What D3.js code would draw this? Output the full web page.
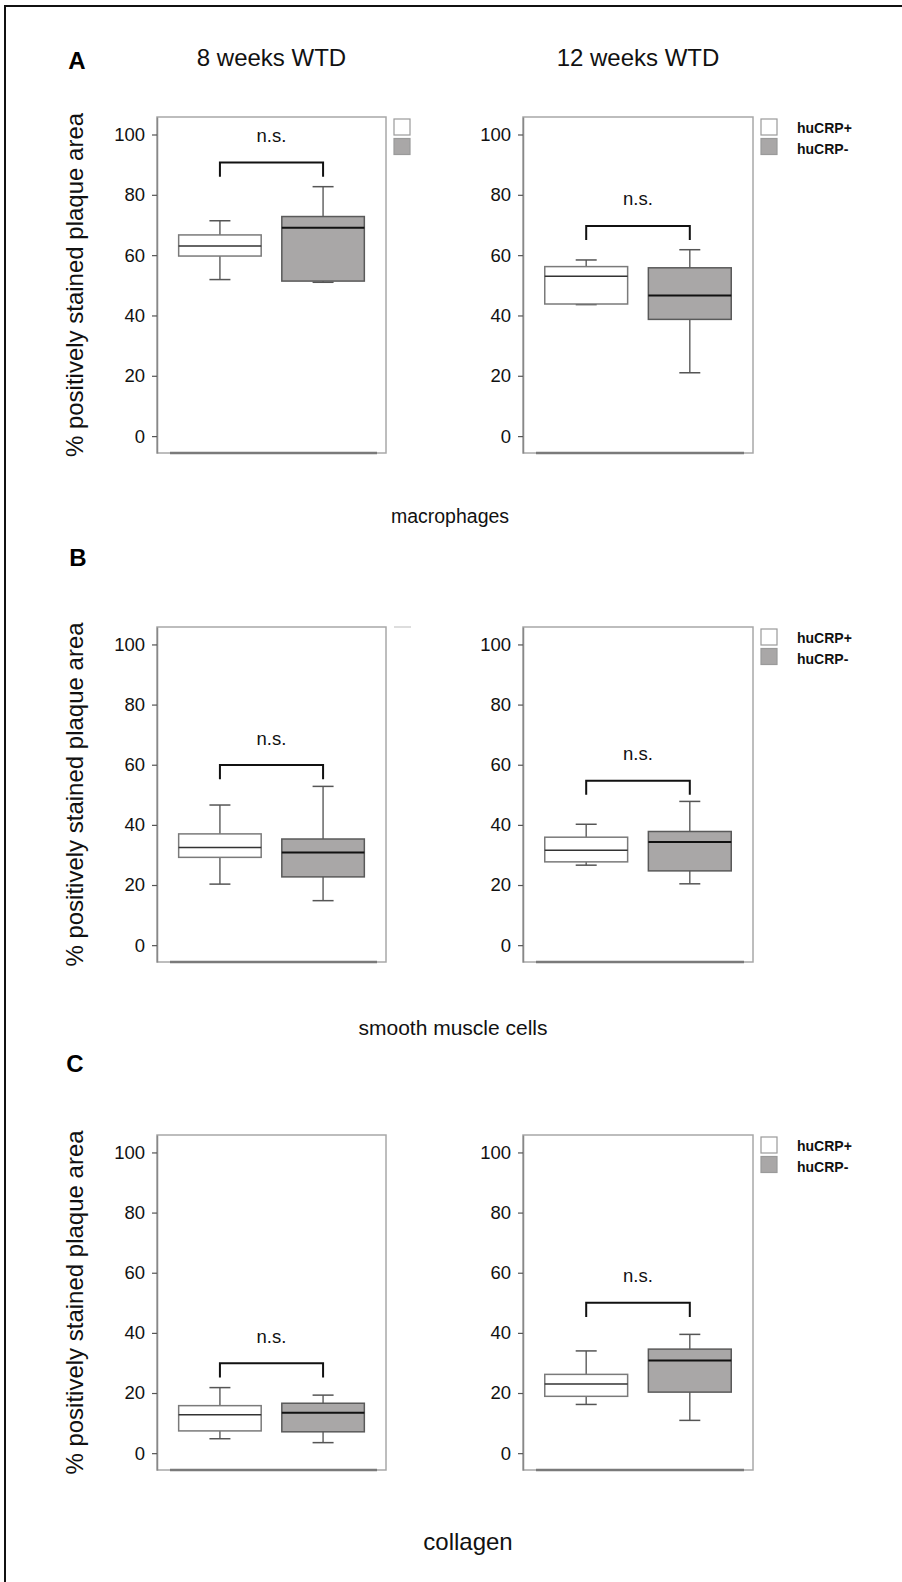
<!DOCTYPE html>
<html>
<head>
<meta charset="utf-8">
<title>Plaque composition</title>
<style>
body { margin: 0; background: #fff; }
text { font-family: "Liberation Sans", Arial, sans-serif; }
</style>
</head>
<body>
<script src="https://cdnjs.cloudflare.com/ajax/libs/d3/7.8.5/d3.min.js"></script>
<script>
// grupy i etykiety
var groups = ["huCRP+", "huCRP-"];
var weeks = ["8 weeks WTD", "12 weeks WTD"];
var stains = ["macrophages", "smooth muscle cells", "collagen"];
var letters = ["A", "B", "C"];
var yTicks = [0, 20, 40, 60, 80, 100];

// [dolny wąs, Q1, mediana, Q3, górny wąs] dla huCRP+ i huCRP-
var macro8  = [[51.9, 59.7, 63.0, 66.7, 71.4], [51.0, 51.4, 69.1, 72.8, 82.7]];
var macro12 = [[43.6, 43.8, 53.0, 56.2, 58.4], [21.0, 38.7, 46.6, 55.8, 61.8]];
var smc8    = [[20.3, 29.2, 32.5, 37.0, 46.6], [14.8, 22.7, 30.8, 35.3, 52.8]];
var smc12   = [[26.6, 27.7, 31.6, 35.9, 40.2], [20.4, 24.7, 34.3, 37.8, 47.8]];
var coll8   = [[4.8, 7.4, 12.8, 15.8, 21.8], [3.5, 7.1, 13.4, 16.6, 19.3]];
var coll12  = [[16.2, 18.9, 23.0, 26.2, 34.0], [10.9, 20.3, 30.8, 34.6, 39.5]];

// wysokosc klamry "n.s." (8 tyg., 12 tyg.)
var bracketMacro = [90.7, 69.7];
var bracketSmc = [59.9, 54.7];
var bracketColl = [29.9, 50.0];
var bracketDrop = 4.7;

var panelData = [[macro8, macro12], [smc8, smc12], [coll8, coll12]];
var panelBracket = [bracketMacro, bracketSmc, bracketColl];

// uklad
var colX = [[157, 386], [523, 753]];
var rowY = [[117, 453], [627, 962], [1135, 1470]];
var letterPos = [[77, 60], [78, 557], [75, 1063]];
var stainPos = [[450, 516], [453, 1027], [468, 1541]];
var stainSize = [19.5, 21, 24];
var fills = ["#ffffff", "#a9a7a7"];

var svg = d3.select("body").append("svg")
  .attr("width", 902)
  .attr("height", 1582);

// ramka strony (gora i lewa krawedz)
svg.append("line").attr("x1", 5).attr("x2", 902).attr("y1", 6).attr("y2", 6)
  .attr("stroke", "#111").attr("stroke-width", 2);
svg.append("line").attr("x1", 5).attr("x2", 5).attr("y1", 5).attr("y2", 1582)
  .attr("stroke", "#111").attr("stroke-width", 2);

// naglowki kolumn
weeks.forEach(function(w, c) {
  svg.append("text")
    .attr("x", (colX[c][0] + colX[c][1]) / 2)
    .attr("y", 57)
    .attr("text-anchor", "middle")
    .attr("dominant-baseline", "central")
    .style("font-size", "24px")
    .attr("fill", "#111")
    .text(w);
});

rowY.forEach(function(ry, r) {
  var y0 = ry[0], y1 = ry[1];

  svg.append("text")
    .attr("x", letterPos[r][0]).attr("y", letterPos[r][1])
    .attr("text-anchor", "middle")
    .attr("dominant-baseline", "central")
    .style("font-size", "24px").style("font-weight", "bold")
    .text(letters[r]);

  svg.append("text")
    .attr("x", stainPos[r][0]).attr("y", stainPos[r][1])
    .attr("text-anchor", "middle")
    .attr("dominant-baseline", "central")
    .style("font-size", stainSize[r] + "px")
    .attr("fill", "#111")
    .text(stains[r]);

  // opis osi Y
  svg.append("text")
    .attr("transform", "translate(74," + ((y0 + y1) / 2) + ") rotate(-90)")
    .attr("text-anchor", "middle")
    .attr("dominant-baseline", "central")
    .style("font-size", "24px")
    .attr("fill", "#111")
    .text("% positively stained plaque area");

  colX.forEach(function(cx, c) {
    var x0 = cx[0], x1 = cx[1];
    var stats = panelData[r][c];
    var g = svg.append("g");

    var x = d3.scaleBand().domain(groups).range([x0, x1])
      .paddingInner(0.2).paddingOuter(0.21);
    var y = d3.scaleLinear().domain([-5.6, 105.8]).range([y1, y0]);
    var bw = x.bandwidth();

    // ramka wykresu
    g.append("rect")
      .attr("x", x0).attr("y", y0)
      .attr("width", x1 - x0).attr("height", y1 - y0)
      .attr("fill", "none").attr("stroke", "#a8a8a8").attr("stroke-width", 1.5);
    g.append("line")
      .attr("x1", x0 + 13).attr("x2", x1 - 9).attr("y1", y1).attr("y2", y1)
      .attr("stroke", "#7a7a7a").attr("stroke-width", 2.5);

    var ax = g.append("g")
      .attr("transform", "translate(" + x0 + ",0)")
      .call(d3.axisLeft(y).tickValues(yTicks).tickSize(5).tickSizeOuter(0).tickPadding(7));
    ax.select(".domain").attr("stroke", "#888").attr("stroke-width", 1.5);
    ax.selectAll(".tick line").attr("stroke", "#555").attr("stroke-width", 1.2);
    ax.selectAll(".tick text")
      .style("font-size", "18.5px")
      .style("font-family", "'Liberation Sans', Arial, sans-serif")
      .attr("fill", "#111");

    // boxploty
    groups.forEach(function(grp, i) {
      var s = stats[i];
      var mid = x(grp) + bw / 2;
      var capW = 21;
      g.append("line").attr("x1", mid).attr("x2", mid)
        .attr("y1", y(s[4])).attr("y2", y(s[0]))
        .attr("stroke", "#666").attr("stroke-width", 1.5);
      [s[0], s[4]].forEach(function(v) {
        g.append("line")
          .attr("x1", mid - capW / 2).attr("x2", mid + capW / 2)
          .attr("y1", y(v)).attr("y2", y(v))
          .attr("stroke", "#555").attr("stroke-width", 1.5);
      });
      g.append("rect")
        .attr("x", x(grp)).attr("y", y(s[3]))
        .attr("width", bw).attr("height", y(s[1]) - y(s[3]))
        .attr("fill", fills[i])
        .attr("stroke", i == 0 ? "#7a7a7a" : "#5a5a5a").attr("stroke-width", 1.5);
      g.append("line")
        .attr("x1", x(grp)).attr("x2", x(grp) + bw)
        .attr("y1", y(s[2])).attr("y2", y(s[2]))
        .attr("stroke", i == 0 ? "#333" : "#111").attr("stroke-width", i == 0 ? 1.5 : 2);
    });

    // klamra n.s.
    var top = panelBracket[r][c];
    var c1 = x(groups[0]) + bw / 2, c2 = x(groups[1]) + bw / 2;
    g.append("path")
      .attr("d", "M" + c1 + "," + y(top - bracketDrop) + "V" + y(top) + "H" + c2 + "V" + y(top - bracketDrop))
      .attr("fill", "none").attr("stroke", "#111").attr("stroke-width", 2);
    g.append("text")
      .attr("x", (c1 + c2) / 2).attr("y", y(top) - 27)
      .attr("text-anchor", "middle")
      .attr("dominant-baseline", "central")
      .style("font-size", "18.5px")
      .attr("fill", "#111")
      .text("n.s.");

    // legenda
    var showLegend = (c == 1) || (r == 0);
    if (showLegend) {
      groups.forEach(function(grp, i) {
        g.append("rect")
          .attr("x", x1 + 8).attr("y", y0 + 2 + i * 19.5)
          .attr("width", 16).attr("height", 16)
          .attr("fill", fills[i]).attr("stroke", "#9a9a9a").attr("stroke-width", 1.2);
        if (c == 1) {
          g.append("text")
            .attr("x", x1 + 44).attr("y", y0 + 10.5 + i * 21)
            .attr("dominant-baseline", "central")
            .style("font-size", "14px").style("font-weight", "bold")
            .attr("fill", "#111")
            .text(grp);
        }
      });
    }
    if (r == 1 && c == 0) {
      g.append("line").attr("x1", x1 + 8).attr("x2", x1 + 25)
        .attr("y1", y0).attr("y2", y0)
        .attr("stroke", "#bbb").attr("stroke-width", 1);
    }
  });
});
</script>
</body>
</html>
